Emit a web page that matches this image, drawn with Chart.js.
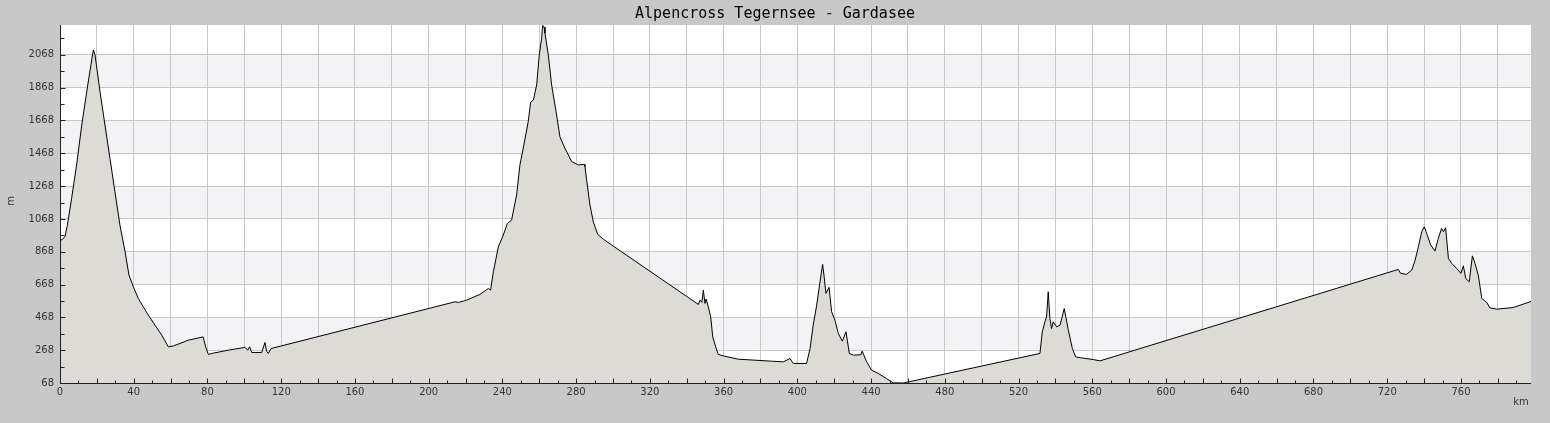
<!DOCTYPE html>
<html>
<head>
<meta charset="utf-8">
<script src="https://cdn.jsdelivr.net/npm/chart.js@4"></script>
<style>
    body { margin: 0; background: #c8c8c8; }
    canvas { display: block; }
</style>
</head>
<body>
<canvas id="profileChart" width="1550" height="423"></canvas>
<script>
const chartTitle = "Alpencross Tegernsee - Gardasee";

// distance along the route (km) and elevation (m)
const distKm = [
    0, 1.5, 2.7, 4, 6.3, 9, 11.8, 14.5, 16.8, 18.1, 19, 21.7, 24.4, 27.1, 29.8, 32.5, 35.3, 37.4, 39.8,
    42.5, 45.2, 47.9, 51.5, 55.2, 58.8, 61.5, 65.1, 69.6, 77.7, 79, 80.5, 82.3, 91.3, 100.4, 101.8,
    102.9, 104, 109.4, 111.2, 112.1, 113, 114.5, 214.3, 216.1, 220.6, 227.8, 232.4, 233.6, 235.1,
    237.8, 240.5, 242.7, 245, 247.7, 249.5, 251.3, 254, 255.3, 256.8, 258.6, 260, 261.3, 261.8,
    262.6, 263.1, 264.9, 266.7, 269.4, 271.2, 273.9, 277.6, 281.2, 284.3, 284.8, 285.7, 287.5,
    289.3, 291.7, 294.7, 299.3, 346.3, 347.2, 348.2, 349, 349.9, 350.5, 351.7, 353, 354.1, 355.7,
    357.1, 360.7, 368, 386, 392.4, 396, 397.8, 405, 406.9, 408.6, 410.5, 412.3, 413.7, 414.5, 415.5,
    417.2, 418.6, 420.4, 422.2, 424.4, 426.4, 428.2, 430.4, 434.5, 435.2, 437.6, 440.3, 443.9,
    448.4, 452, 457.5, 531.6, 532.9, 534.3, 535.2, 536.1, 537, 537.9, 538.8, 540.7, 542.5, 544.8,
    547, 549.2, 551, 554.2, 560.5, 564.2, 726, 727.3, 730.5, 733.3, 735, 736.9, 738.7, 740.1,
    741.4, 743.6, 745.9, 747.7, 749.5, 750.5, 751.7, 753.2, 755, 757.7, 760, 761.3, 762.6, 764.5,
    766.2, 767.6, 769.4, 771.3, 774, 775.7, 779.4, 788.4, 798
];
const elevM = [
    935, 945, 960, 1030, 1193, 1397, 1640, 1844, 2007, 2098, 2068, 1844, 1640, 1437, 1234, 1031, 868, 726, 654,
    583, 532, 482, 421, 360, 288, 294, 309, 329, 349, 288, 242, 248, 268, 285, 268,
    288, 254, 254, 315, 262, 248, 278, 563, 559, 573, 608, 644, 634, 746,
    898, 970, 1041, 1061, 1214, 1397, 1499, 1661, 1779, 1793, 1885, 2068, 2170, 2248,
    2238, 2200, 2068, 1885, 1702, 1569, 1499, 1417, 1397, 1401, 1386, 1305, 1153,
    1051, 974, 945, 909, 547, 573, 560, 634, 553, 580, 532, 471, 349, 288,
    242, 231, 213, 201, 197, 217, 187, 187, 278, 421, 543, 685, 791, 720, 614,
    651, 502, 451, 370, 323, 380, 248, 238, 240, 262, 197, 146, 126,
    95, 69, 68, 248, 380, 441, 470, 624, 461, 400, 441, 410, 420, 522,
    390, 278, 227, 221, 211, 203, 760, 736, 730, 756, 811, 898, 990, 1020,
    980, 909, 872, 949, 1010, 990, 1014, 827, 797, 766, 736, 782, 705, 685,
    843, 797, 726, 583, 559, 526, 518, 528, 565
];

const xTickLabels = [0, 40, 80, 120, 160, 200, 240, 280, 320, 360, 400, 440, 480, 520, 560, 600, 640, 680, 720, 760];
const yTickLabels = [68, 268, 468, 668, 868, 1068, 1268, 1468, 1668, 1868, 2068];

const xMax = 798;
const yMin = 68;
const yMax = 2250;

const gridColor = "#c8c8c8";
const labelColor = "#333";

const xGridStep = 20;
const xMinorStep = 10;
const yMinorStep = 100;

const backgroundPlugin = {
    id: "profileBackground",
    beforeDraw(chart) {
        const { ctx, chartArea, scales } = chart;
        ctx.save();
        ctx.fillStyle = "#c8c8c8";
        ctx.fillRect(0, 0, chart.width, chart.height);
        ctx.fillStyle = "#ffffff";
        ctx.fillRect(chartArea.left, chartArea.top, chartArea.right - chartArea.left, chartArea.bottom - chartArea.top);

        // alternating bands between the horizontal grid lines
        ctx.fillStyle = "#f3f2f5";
        const bandEdges = [...yTickLabels, yMax];
        for (let i = 1; i < bandEdges.length - 1; i += 2) {
            const yA = scales.y.getPixelForValue(bandEdges[i]);
            const yB = scales.y.getPixelForValue(bandEdges[i + 1]);
            ctx.fillRect(chartArea.left, yB, chartArea.right - chartArea.left, yA - yB);
        }
        ctx.restore();
    },
    afterDraw(chart) {
        const { ctx, chartArea, scales } = chart;
        ctx.save();
        ctx.strokeStyle = "#222";
        ctx.lineWidth = 1;

        // axis lines
        const bottom = Math.round(chartArea.bottom) + 0.5;
        const left = Math.round(chartArea.left) + 0.5;
        ctx.beginPath();
        ctx.moveTo(left, chartArea.top);
        ctx.lineTo(left, bottom);
        ctx.lineTo(chartArea.right, bottom);
        ctx.stroke();

        // small ticks pointing into the plot
        ctx.beginPath();
        for (let km = 0; km < xMax; km += xMinorStep) {
            const x = Math.round(scales.x.getPixelForValue(km)) + 0.5;
            const len = km % xGridStep === 0 ? 5 : 3;
            ctx.moveTo(x, bottom);
            ctx.lineTo(x, bottom - len);
        }
        for (let m = yMin; m < yMax; m += yMinorStep) {
            const y = Math.round(scales.y.getPixelForValue(m)) + 0.5;
            const len = (m - yMin) % 200 === 0 ? 5 : 4;
            ctx.moveTo(left, y);
            ctx.lineTo(left + len, y);
        }
        ctx.stroke();

        // title and axis names
        ctx.fillStyle = "#000";
        ctx.font = "15px 'DejaVu Sans Mono'";
        ctx.textAlign = "center";
        ctx.textBaseline = "middle";
        ctx.fillText(chartTitle, chart.width / 2, 14);

        ctx.fillStyle = labelColor;
        ctx.font = "10px 'DejaVu Sans'";
        ctx.fillText("km", 1521, 402);
        ctx.translate(11, 201);
        ctx.rotate(-Math.PI / 2);
        ctx.fillText("m", 0, 0);
        ctx.restore();
    },
};

const ctx = document.getElementById("profileChart").getContext("2d");

new Chart(ctx, {
    type: "line",
    data: {
        datasets: [
            {
                data: distKm.map((km, i) => ({ x: km, y: elevM[i] })),
                borderColor: "#000",
                borderWidth: 1,
                backgroundColor: "#dcdbd6",
                fill: "start",
                pointRadius: 0,
                tension: 0,
            },
        ],
    },
    options: {
        responsive: false,
        animation: false,
        devicePixelRatio: 1,
        layout: {
            padding: { top: 25, right: 19, left: 0, bottom: 0 },
        },
        plugins: {
            legend: { display: false },
            tooltip: { enabled: false },
        },
        scales: {
            x: {
                type: "linear",
                min: 0,
                max: xMax,
                afterBuildTicks(scale) {
                    const ticks = [];
                    for (let km = 0; km < xMax; km += xGridStep) ticks.push({ value: km });
                    scale.ticks = ticks;
                },
                afterFit(scale) {
                    scale.height = 40;
                },
                grid: { color: gridColor, drawTicks: false },
                border: { display: false },
                ticks: {
                    autoSkip: false,
                    maxRotation: 0,
                    padding: 3,
                    color: labelColor,
                    font: { family: "DejaVu Sans", size: 10 },
                    callback: (value) => (xTickLabels.includes(value) ? String(value) : ""),
                },
            },
            y: {
                min: yMin,
                max: yMax,
                afterBuildTicks(scale) {
                    scale.ticks = yTickLabels.map((value) => ({ value }));
                },
                afterFit(scale) {
                    scale.width = 60;
                },
                grid: { color: gridColor, drawTicks: false },
                border: { display: false },
                ticks: {
                    padding: 6,
                    color: labelColor,
                    font: { family: "DejaVu Sans", size: 10 },
                    callback: (value) => String(value),
                },
            },
        },
    },
    plugins: [backgroundPlugin],
});
</script>
</body>
</html>
